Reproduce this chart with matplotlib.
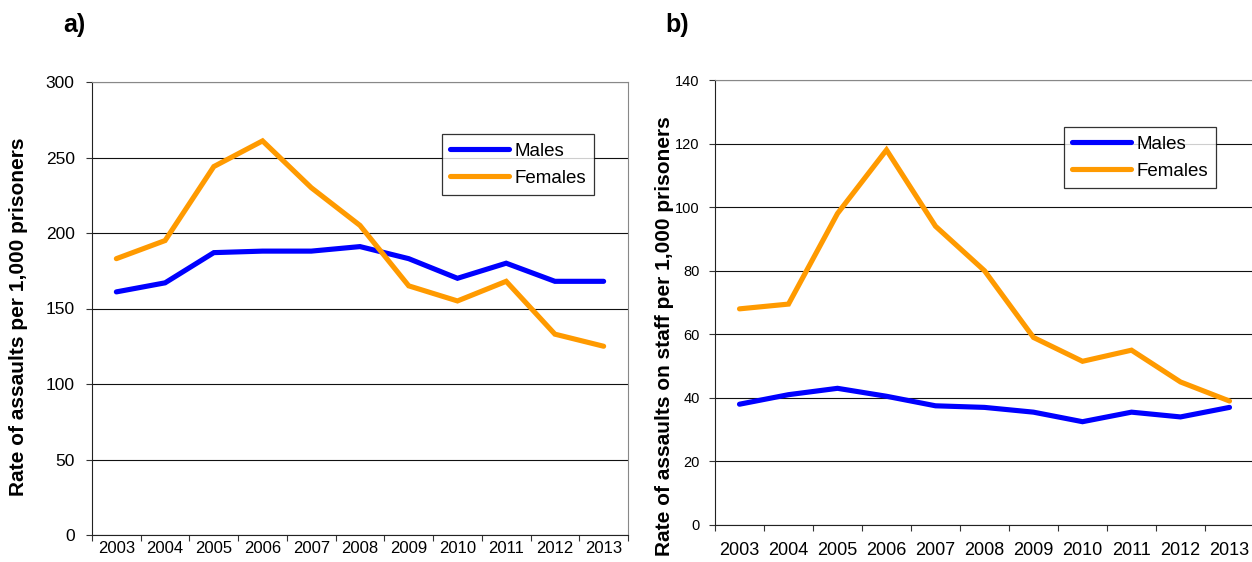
import matplotlib
matplotlib.use("Agg")
import matplotlib.pyplot as plt
import numpy as np

plt.rcParams['font.family'] = ['Liberation Sans', 'DejaVu Sans']

years = ['2003', '2004', '2005', '2006', '2007', '2008', '2009', '2010', '2011', '2012', '2013']
a_males = [161, 167, 187, 188, 188, 191, 183, 170, 180, 168, 168]
a_females = [183, 195, 244, 261, 230, 205, 165, 155, 168, 133, 125]
b_males = [38, 41, 43, 40.5, 37.5, 37, 35.5, 32.5, 35.5, 34, 37]
b_females = [68, 69.5, 98, 118, 94, 80, 59, 51.5, 55, 45, 39]

BLUE = '#0000FF'
ORANGE = '#FF9A00'

fig = plt.figure(figsize=(12.52, 5.62), dpi=100)
W, H = 1252, 562


def fx(px):
    return px / W


def fy(py):
    return 1 - py / H


def make_panel(box, males, females, ymax, ystep, ylabel, ylabel_size, ylabel_xy,
               legend_xy, xtick_size, xtick_pad, ytick_size, ytick_pad, show_right):
    l, t, r, b = box
    ax = fig.add_axes([fx(l), fy(b), fx(r) - fx(l), fy(t) - fy(b)])
    x = np.arange(len(years))
    ax.plot(x, males, color=BLUE, lw=3.7, label='Males', solid_capstyle='round',
            solid_joinstyle='miter', zorder=3)
    ax.plot(x, females, color=ORANGE, lw=3.7, label='Females', solid_capstyle='round',
            solid_joinstyle='miter', zorder=3)
    ax.set_xlim(-0.5, len(years) - 0.5)
    ax.set_ylim(0, ymax)
    ax.set_yticks(np.arange(0, ymax + 1, ystep))
    ax.yaxis.grid(True, color='#111111', lw=0.8)
    ax.set_axisbelow(True)
    ax.set_xticks(np.arange(-0.5, len(years), 1.0))
    ax.set_xticklabels([])
    ax.set_xticks(x, minor=True)
    ax.set_xticklabels(years, minor=True, fontsize=xtick_size)
    ax.tick_params(axis='x', which='major', direction='out', length=4.5, width=0.8, color='#333333')
    ax.tick_params(axis='x', which='minor', length=0, pad=xtick_pad)
    ax.tick_params(axis='y', direction='out', length=4.5, width=0.8, labelsize=ytick_size,
                   pad=ytick_pad, color='#333333')
    ax.spines['left'].set_color('#222222')
    ax.spines['bottom'].set_color('#222222')
    ax.spines['top'].set_color('#888888')
    ax.spines['right'].set_color('#888888')
    ax.spines['right'].set_visible(show_right)
    ax.set_ylabel(ylabel, fontsize=ylabel_size, fontweight='bold')
    ax.yaxis.set_label_coords((ylabel_xy[0] - l) / (r - l), (b - ylabel_xy[1]) / (b - t))
    leg = ax.legend(loc='upper left',
                    bbox_to_anchor=((legend_xy[0] - l) / (r - l), (b - legend_xy[1]) / (b - t)),
                    fontsize=13.5, frameon=True, fancybox=False, edgecolor='#000000',
                    handlelength=3.1, handletextpad=0.3, borderpad=0.45, labelspacing=0.55,
                    borderaxespad=0)
    leg.get_frame().set_linewidth(0.9)
    return ax


# panel a
make_panel((92, 82, 628, 535), a_males, a_females, 300, 50,
           'Rate of assaults per 1,000 prisoners', 15, (28, 317),
           (442, 134), 12, 4.5, 12.5, 8, True)

# panel b
make_panel((715, 80, 1254, 525), b_males, b_females, 140, 20,
           'Rate of assaults on staff per 1,000 prisoners', 15, (674, 336),
           (1064, 127), 13, 12, 10.5, 6.5, False)

fig.text(fx(63), fy(25), 'a)', fontsize=18, fontweight='bold', va='center', ha='left')
fig.text(fx(665), fy(25), 'b)', fontsize=18, fontweight='bold', va='center', ha='left')

fig.savefig('out.png', dpi=100)
